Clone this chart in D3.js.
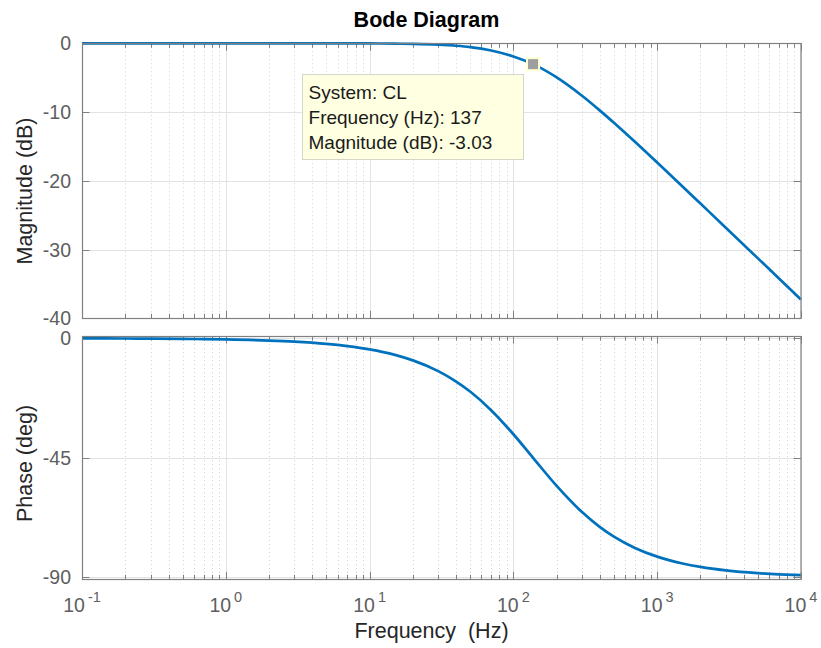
<!DOCTYPE html>
<html>
<head>
<meta charset="utf-8">
<script src="https://cdn.jsdelivr.net/npm/d3@7"></script>
<style>
  html, body { margin: 0; padding: 0; background: #fff; }
  svg { display: block; font-family: "Liberation Sans", Arial, Helvetica, sans-serif; }
</style>
</head>
<body>
<svg id="chart" width="821" height="648"></svg>
<script>
// ---- data ----
const freqHz = [0.1, 0.2, 0.3, 0.5, 0.7, 1, 2, 3, 5, 7, 10, 15, 20, 30, 40, 50, 70, 100, 137, 200, 300, 400, 500, 700, 1000, 1500, 2000, 3000, 5000, 7000, 10000];
const magnitudeDb = [0, 0, 0, 0, 0, 0, -0.001, -0.002, -0.006, -0.011, -0.023, -0.052, -0.092, -0.204, -0.36, -0.55, -1.04, -1.91, -3.03, -4.96, -7.63, -9.79, -11.56, -14.33, -17.35, -20.82, -23.31, -26.82, -31.25, -34.17, -37.27];
const phaseDeg = [-0.04, -0.08, -0.13, -0.21, -0.29, -0.42, -0.84, -1.25, -2.09, -2.93, -4.17, -6.25, -8.31, -12.35, -16.27, -20.05, -27.06, -36.13, -45, -55.59, -65.45, -71.1, -74.68, -78.93, -82.2, -84.78, -86.08, -87.39, -88.43, -88.88, -89.21];
const magTicks = [0, -10, -20, -30, -40];
const phaseTicks = [0, -45, -90];
const decadeExponents = [-1, 0, 1, 2, 3, 4];
const tipFreq = 137;
const tipMag = -3.03;
const tipLines = ["System: CL", "Frequency (Hz): 137", "Magnitude (dB): -3.03"];

const svg = d3.select("#chart");
const left = 82, right = 801;
const x = d3.scaleLog().domain([0.1, 1e4]).range([left, right]);
const yMag = d3.scaleLinear().domain([-40, 0]).range([318.3, 43.3]);
const yPh = d3.scaleLinear().domain([-90.75, 0.87]).range([579.3, 336]);

const lineColor = "#0072BD";
const borderColor = "#808080";
const tickLabelColor = "#5e5e5e";

const minorTicks = x.ticks().filter(v => Math.abs(Math.log10(v) - Math.round(Math.log10(v))) > 1e-6);
const majorTicks = decadeExponents.map(e => Math.pow(10, e));

function panel(y, yTicks) {
  const [yb, yt] = y.range();
  const g = svg.append("g");
  g.selectAll(".mg").data(minorTicks).join("line")
    .attr("x1", d => Math.round(x(d)) + 0.5).attr("x2", d => Math.round(x(d)) + 0.5)
    .attr("y1", yt).attr("y2", yb)
    .attr("stroke", "#d2d2d2").attr("stroke-width", 1).attr("stroke-dasharray", "1,3");
  g.selectAll(".Mg").data(majorTicks).join("line")
    .attr("x1", d => Math.round(x(d)) + 0.5).attr("x2", d => Math.round(x(d)) + 0.5)
    .attr("y1", yt).attr("y2", yb)
    .attr("stroke", "#e3e3e3").attr("stroke-width", 1);
  g.selectAll(".hg").data(yTicks).join("line")
    .attr("x1", left).attr("x2", right)
    .attr("y1", d => Math.round(y(d)) + 0.5).attr("y2", d => Math.round(y(d)) + 0.5)
    .attr("stroke", "#e3e3e3").attr("stroke-width", 1);
  const tk = svg.append("g").attr("stroke", borderColor).attr("stroke-width", 1);
  minorTicks.forEach(v => {
    const px = Math.round(x(v)) + 0.5;
    tk.append("line").attr("x1", px).attr("x2", px).attr("y1", yb).attr("y2", yb - 4.5);
    tk.append("line").attr("x1", px).attr("x2", px).attr("y1", yt).attr("y2", yt + 4.5);
  });
  majorTicks.forEach(v => {
    const px = Math.round(x(v)) + 0.5;
    tk.append("line").attr("x1", px).attr("x2", px).attr("y1", yb).attr("y2", yb - 7.5);
    tk.append("line").attr("x1", px).attr("x2", px).attr("y1", yt).attr("y2", yt + 7.5);
  });
  yTicks.forEach(v => {
    const py = Math.round(y(v)) + 0.5;
    tk.append("line").attr("x1", left).attr("x2", left + 7.5).attr("y1", py).attr("y2", py);
    tk.append("line").attr("x1", right).attr("x2", right - 7.5).attr("y1", py).attr("y2", py);
  });
  svg.append("g").selectAll("text").data(yTicks).join("text")
    .attr("x", left - 11).attr("y", d => y(d) + 7)
    .attr("text-anchor", "end").attr("font-size", 19.5).attr("fill", tickLabelColor)
    .text(d => d);
  return g;
}

panel(yMag, magTicks);
panel(yPh, phaseTicks);

const magLine = d3.line().x((d, i) => x(freqHz[i])).y(d => yMag(d)).curve(d3.curveMonotoneX);
const phLine = d3.line().x((d, i) => x(freqHz[i])).y(d => yPh(d)).curve(d3.curveMonotoneX);

svg.append("defs").html(
  '<clipPath id="c1"><rect x="' + (left - 1) + '" y="' + (yMag.range()[1] - 2) + '" width="' + (right - left + 2) + '" height="' + (yMag.range()[0] - yMag.range()[1] + 3) + '"/></clipPath>' +
  '<clipPath id="c2"><rect x="' + (left - 1) + '" y="' + (yPh.range()[1]) + '" width="' + (right - left + 2) + '" height="' + (yPh.range()[0] - yPh.range()[1]) + '"/></clipPath>');

svg.append("path").datum(magnitudeDb).attr("d", magLine)
  .attr("fill", "none").attr("stroke", lineColor).attr("stroke-width", 2.7).attr("clip-path", "url(#c1)");
svg.append("path").datum(phaseDeg).attr("d", phLine)
  .attr("fill", "none").attr("stroke", lineColor).attr("stroke-width", 2.7).attr("clip-path", "url(#c2)");

[yMag, yPh].forEach(y => {
  const [yb, yt] = y.range();
  svg.append("rect").attr("x", left + 0.5).attr("y", Math.round(yt) + 0.5)
    .attr("width", right - left - 0.5).attr("height", Math.round(yb) - Math.round(yt))
    .attr("fill", "none").attr("stroke", borderColor).attr("stroke-width", 1.2);
});

const xl = svg.append("g").attr("fill", tickLabelColor);
decadeExponents.forEach(e => {
  const t = xl.append("text").attr("x", x(Math.pow(10, e))).attr("y", 611.5)
    .attr("text-anchor", "middle").attr("font-size", 19.5);
  t.append("tspan").text("10");
  t.append("tspan").attr("dx", 3).attr("dy", -9.5).attr("font-size", 14.5).text(e);
});

svg.append("text").attr("x", 426.5).attr("y", 26.5).attr("text-anchor", "middle")
  .attr("font-size", 21.5).attr("font-weight", "bold").attr("fill", "#000").text("Bode Diagram");
svg.append("text").attr("x", 431.5).attr("y", 637.5).attr("text-anchor", "middle")
  .attr("font-size", 21.5).attr("fill", "#262626").attr("xml:space", "preserve").style("white-space", "pre")
  .text("Frequency  (Hz)");
svg.append("text").attr("transform", "translate(31.5,191) rotate(-90)").attr("text-anchor", "middle")
  .attr("font-size", 21.5).attr("fill", "#262626").text("Magnitude (dB)");
svg.append("text").attr("transform", "translate(31.5,463.5) rotate(-90)").attr("text-anchor", "middle")
  .attr("font-size", 21.5).attr("fill", "#262626").text("Phase (deg)");

const mx = x(tipFreq), my = yMag(tipMag);
const boxW = 221, boxH = 85;
const bx = mx - 10.5 - boxW, by = my + 10;
const tip = svg.append("g");
tip.append("rect").attr("x", Math.round(bx) + 0.5).attr("y", Math.round(by) + 0.5)
  .attr("width", boxW).attr("height", boxH)
  .attr("fill", "#ffffe1").attr("stroke", "#d6d6c8").attr("stroke-width", 1);
tip.selectAll("text").data(tipLines).join("text")
  .attr("x", bx + 7).attr("y", (d, i) => by + 25 + i * 25)
  .attr("font-size", 19).attr("fill", "#1a1a1a").text(d => d);
tip.append("rect").attr("x", mx - 6).attr("y", my - 6).attr("width", 12).attr("height", 12)
  .attr("fill", "#9e9e9e").attr("stroke", "#ffffd0").attr("stroke-width", 2);
</script>
</body>
</html>
